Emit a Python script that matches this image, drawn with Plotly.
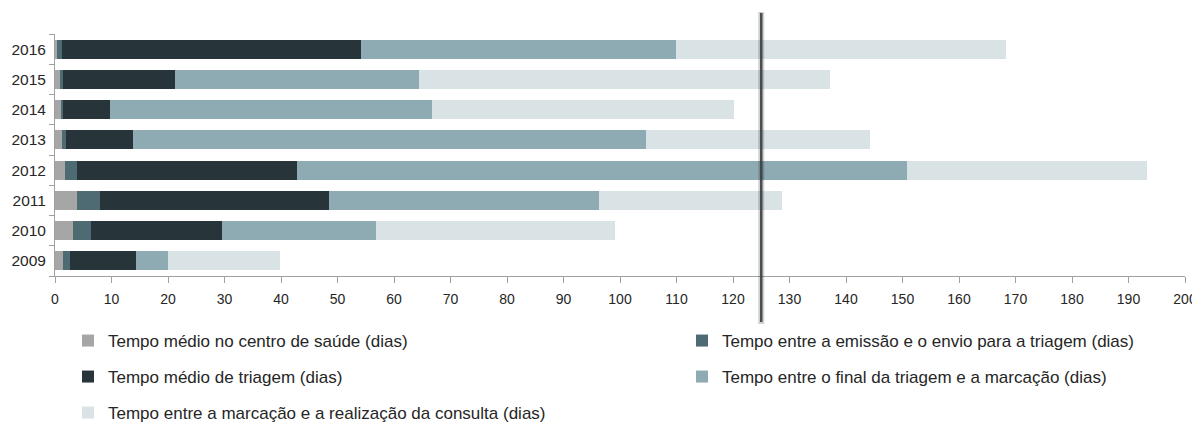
import plotly.graph_objects as go

years = ["2009", "2010", "2011", "2012", "2013", "2014", "2015", "2016"]

centro_saude = [1.5, 3.2, 3.9, 1.7, 1.2, 1.0, 0.8, 0.3]
emissao_envio = [1.2, 3.2, 4.0, 2.2, 0.8, 0.5, 0.7, 0.9]
triagem = [11.6, 23.2, 40.6, 38.9, 11.8, 8.3, 19.7, 53.0]
final_marcacao = [5.7, 27.3, 47.7, 108.0, 90.8, 56.9, 43.3, 55.7]
marcacao_consulta = [19.8, 42.2, 32.4, 42.5, 39.6, 53.4, 72.7, 58.5]

series_names = [
    "Tempo médio no centro de saúde (dias)",
    "Tempo entre a emissão e o envio para a triagem (dias)",
    "Tempo médio de triagem (dias)",
    "Tempo entre o final da triagem e a marcação (dias)",
    "Tempo entre a marcação e a realização da consulta (dias)",
]
series_values = [centro_saude, emissao_envio, triagem, final_marcacao, marcacao_consulta]
series_colors = ["#a6a6a6", "#4e6a73", "#27353b", "#8eaab2", "#d9e2e5"]
legend_ids = ["legend", "legend2", "legend3", "legend4", "legend5"]

reference_value = 125

FONT = "Liberation Sans, Arial, sans-serif"
TEXT = "#262626"

fig = go.Figure()
for name, vals, col, lg in zip(series_names, series_values, series_colors, legend_ids):
    fig.add_trace(go.Bar(
        y=years, x=vals, name=name, orientation="h",
        marker=dict(color=col, line=dict(width=0)),
        legend=lg,
    ))

# The page has an ~8px body margin; target plot area in page px: x 55..1185, y 34..276
OFF = 8
W, H = 1130.0, 242.0
def px_x(px):
    return (px - 55) / W
def px_y(py):
    return (276 - py) / H

col1 = px_x(68)
col2 = px_x(682)
rows = [px_y(341), px_y(377), px_y(413)]
legend_pos = [(col1, rows[0]), (col2, rows[0]), (col1, rows[1]), (col2, rows[1]), (col1, rows[2])]

layout_legends = {}
for lg, (lx, ly) in zip(legend_ids, legend_pos):
    layout_legends[lg] = dict(
        x=lx, y=ly, xanchor="left", yanchor="middle",
        font=dict(family=FONT, size=17, color=TEXT),
        bgcolor="rgba(0,0,0,0)", borderwidth=0,
    )

fig.update_layout(
    barmode="stack",
    bargap=0.37,
    width=1200 - OFF, height=423 - OFF,
    margin=dict(l=55 - OFF, r=15, t=34 - OFF, b=147, autoexpand=False),
    paper_bgcolor="white",
    plot_bgcolor="white",
    showlegend=True,
    font=dict(family=FONT, color=TEXT),
    xaxis=dict(
        range=[0, 200], dtick=10, tick0=0,
        showgrid=False, zeroline=False, automargin=False,
        showline=True, linecolor="#a0a0a0", linewidth=1,
        ticks="outside", ticklen=6, tickcolor="#a0a0a0",
        ticklabelstandoff=4,
        tickfont=dict(family=FONT, size=14, color=TEXT),
    ),
    yaxis=dict(
        type="category", automargin=False,
        showgrid=False, zeroline=False,
        showline=True, linecolor="#a0a0a0", linewidth=1,
        ticks="outside", ticklen=5, tickcolor="#a0a0a0",
        tickson="boundaries", ticklabelstandoff=5,
        tickfont=dict(family=FONT, size=15.5, color=TEXT),
    ),
    **layout_legends,
)

# reference vertical line (soft shadow + core)
fig.add_shape(type="line", xref="x", yref="paper",
              x0=reference_value, x1=reference_value, y0=px_y(324), y1=px_y(12),
              line=dict(color="rgba(0,0,0,0.18)", width=6), layer="above")
fig.add_shape(type="line", xref="x", yref="paper",
              x0=reference_value, x1=reference_value, y0=px_y(322), y1=px_y(13),
              line=dict(color="rgba(55,64,68,0.9)", width=2.5), layer="above")

fig.write_html("out.html")
